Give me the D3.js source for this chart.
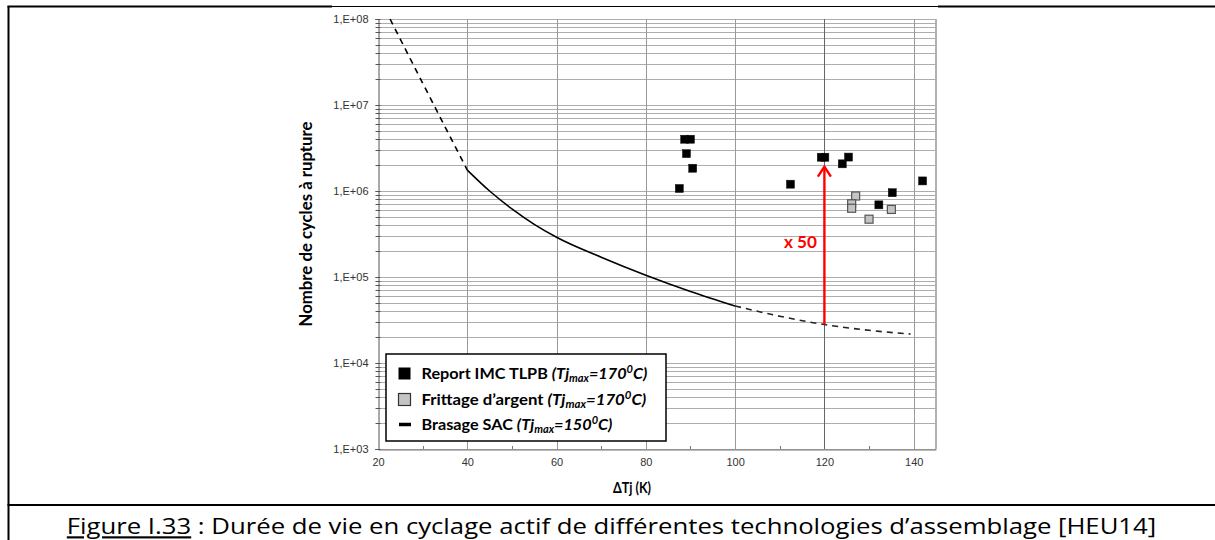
<!DOCTYPE html>
<html><head><meta charset="utf-8">
<script src="https://cdn.jsdelivr.net/npm/d3@7"></script>
<style>body{margin:0;background:#fff} svg{display:block}</style>
</head><body>
<svg id="c" width="1215" height="540"></svg>
<script>
// ---- data ----
const xTicks = [20, 40, 60, 80, 100, 120, 140];
const xMinorTicks = [30, 50, 70, 90, 110, 130];
const yTicks = [1e3, 1e4, 1e5, 1e6, 1e7, 1e8];
const yTickLabels = ["1,E+03", "1,E+04", "1,E+05", "1,E+06", "1,E+07", "1,E+08"];
const imcDT = [88.7, 90.0, 89.1, 90.5, 87.5, 112.4, 119.3, 120.1, 124.0, 125.4, 132.2, 135.2, 142.0];
const imcN  = [4.0e6, 4.0e6, 2.72e6, 1.84e6, 1.07e6, 1.2e6, 2.47e6, 2.47e6, 2.07e6, 2.48e6, 6.9e5, 9.55e5, 1.31e6];
const agDT = [127.0, 126.1, 126.1, 130.0, 135.0];
const agN  = [8.75e5, 7.1e5, 6.3e5, 4.7e5, 6.1e5];
const sacDashA_DT = [22.7, 30, 35, 40];
const sacDashA_N  = [1e8, 1.8e7, 5.6e6, 1.75e6];
const sacSolid_DT = [40, 45, 50, 55, 60, 70, 80, 90, 100];
const sacSolid_N  = [1.75e6, 1.0e6, 6.2e5, 4.1e5, 2.9e5, 1.7e5, 1.05e5, 6.8e4, 4.6e4];
const sacDashB_DT = [100, 110, 120, 130, 139.3];
const sacDashB_N  = [4.6e4, 3.5e4, 2.8e4, 2.4e4, 2.17e4];
const arrowDT = 120, arrowFrom = 2.8e4, arrowTo = 1.97e6;
const arrowLabel = "x 50";
const xTitle = "ΔTj (K)";
const yTitle = "Nombre de cycles à rupture";
const captionA = "Figure I.33";
const captionB = " : Durée de vie en cyclage actif de différentes technologies d’assemblage [HEU14]";

// ---- layout ----
const svg = d3.select("#c");
const L = 378, R = 936, T = 19, B = 449;
const x = d3.scaleLinear().domain([20, 145]).range([L, R]);
const y = d3.scaleLog().domain([1e3, 1e8]).range([B, T]);
// squeeze a text horizontally around its anchor so that it spans the target width
const squeeze = (sel, target, ax, extra) => {
  const w = sel.node().getComputedTextLength();
  const k = target / w;
  sel.attr("transform", `${extra || ""} translate(${ax},0) scale(${k},1) translate(${-ax},0)`);
};

// frame
svg.append("line").attr("x1", 8.5).attr("x2", 8.5).attr("y1", 6).attr("y2", 540).attr("stroke", "#000").attr("stroke-width", 2);
svg.append("line").attr("x1", 7.5).attr("x2", 332).attr("y1", 6.5).attr("y2", 6.5).attr("stroke", "#000").attr("stroke-width", 2);
svg.append("line").attr("x1", 332).attr("x2", 938).attr("y1", 6.5).attr("y2", 6.5).attr("stroke", "#000").attr("stroke-width", 1.2);
svg.append("line").attr("x1", 938).attr("x2", 1215).attr("y1", 6.5).attr("y2", 6.5).attr("stroke", "#000").attr("stroke-width", 2);
svg.append("line").attr("x1", 7.5).attr("x2", 1215).attr("y1", 505).attr("y2", 505).attr("stroke", "#000").attr("stroke-width", 2);

// gridlines
const yGrid = [];
for (let e = 3; e < 8; e++) for (let m = 1; m < 10; m++) yGrid.push(m * Math.pow(10, e));
yGrid.push(1e8);
svg.append("g").selectAll("line").data(yGrid).join("line")
  .attr("x1", L).attr("x2", R).attr("y1", d => Math.round(y(d)) + 0.5).attr("y2", d => Math.round(y(d)) + 0.5)
  .attr("stroke", "#adadad").attr("stroke-width", 1);
svg.append("g").selectAll("line").data(xTicks.slice(1)).join("line")
  .attr("x1", d => Math.round(x(d)) + 0.5).attr("x2", d => Math.round(x(d)) + 0.5).attr("y1", T).attr("y2", B)
  .attr("stroke", d => d === 120 ? "#666" : "#999").attr("stroke-width", 1);
svg.append("line").attr("x1", R).attr("x2", R).attr("y1", T).attr("y2", B).attr("stroke", "#b0b0b0").attr("stroke-width", 2);

// axes
const gx = svg.append("g").attr("transform", `translate(0,${B + 0.5})`)
  .call(d3.axisBottom(x).tickValues(xTicks).tickSize(0).tickPadding(9).tickFormat(d3.format("d")));
gx.select(".domain").attr("stroke", "#777");
gx.selectAll("text").attr("font-family", "Liberation Sans, Arial").attr("font-size", 11).attr("fill", "#333");
svg.append("g").selectAll("line").data(xMinorTicks).join("line")
  .attr("x1", d => Math.round(x(d)) + 0.5).attr("x2", d => Math.round(x(d)) + 0.5).attr("y1", B - 3).attr("y2", B)
  .attr("stroke", "#777");

const gy = svg.append("g").attr("transform", `translate(${L + 0.5},0)`)
  .call(d3.axisLeft(y).tickValues(yTicks).tickSize(3).tickPadding(7).tickFormat((d, i) => yTickLabels[i]));
gy.select(".domain").attr("stroke", "#555");
gy.selectAll(".tick line").attr("stroke", "#555");
gy.selectAll("text").attr("font-family", "Liberation Sans, Arial").attr("font-size", 11).attr("fill", "#333");
svg.append("g").selectAll("line").data(yGrid).join("line")
  .attr("x1", L - 2.5).attr("x2", L + 2.5).attr("y1", d => Math.round(y(d)) + 0.5).attr("y2", d => Math.round(y(d)) + 0.5)
  .attr("stroke", "#555");

// curve
const line = d3.line().x(d => x(d[0])).y(d => y(d[1])).curve(d3.curveMonotoneX);
const zip = (a, b) => a.map((v, i) => [v, b[i]]);
svg.append("path").datum(zip(sacDashA_DT, sacDashA_N)).attr("d", line).attr("fill", "none")
  .attr("stroke", "#000").attr("stroke-width", 1.6).attr("stroke-dasharray", "6,5");
svg.append("path").datum(zip(sacSolid_DT, sacSolid_N)).attr("d", line).attr("fill", "none")
  .attr("stroke", "#000").attr("stroke-width", 1.6);
svg.append("path").datum(zip(sacDashB_DT, sacDashB_N)).attr("d", line).attr("fill", "none")
  .attr("stroke", "#222").attr("stroke-width", 1.6).attr("stroke-dasharray", "6,5");

// points
const S = 8;
svg.append("g").selectAll("rect").data(zip(agDT, agN)).join("rect")
  .attr("x", d => x(d[0]) - S / 2).attr("y", d => y(d[1]) - S / 2).attr("width", S).attr("height", S)
  .attr("fill", "#c4c4c4").attr("stroke", "#555").attr("stroke-width", 1.2);
svg.append("g").selectAll("rect").data(zip(imcDT, imcN)).join("rect")
  .attr("x", d => x(d[0]) - S / 2).attr("y", d => y(d[1]) - S / 2).attr("width", S).attr("height", S)
  .attr("fill", "#000").attr("stroke", "#111").attr("stroke-width", 0.5);

// red arrow
const ax = x(arrowDT), ay1 = y(arrowFrom), ay2 = y(arrowTo);
svg.append("line").attr("x1", ax).attr("x2", ax).attr("y1", ay1).attr("y2", ay2 + 1).attr("stroke", "#f00").attr("stroke-width", 2.4);
svg.append("path").attr("d", `M${ax - 6.5},${ay2 + 11}L${ax},${ay2 + 1}L${ax + 6.5},${ay2 + 11}`)
  .attr("fill", "none").attr("stroke", "#f00").attr("stroke-width", 2.4);
const xl = svg.append("text").attr("x", 817).attr("y", 248).attr("text-anchor", "end")
  .attr("font-family", "Lato, Open Sans, sans-serif").attr("font-weight", "bold").attr("font-size", 16.5).attr("fill", "#f00").text(arrowLabel);
squeeze(xl, 33, 817);

// legend
svg.append("rect").attr("x", 386).attr("y", 354).attr("width", 280).attr("height", 87)
  .attr("fill", "#fff").attr("stroke", "#000").attr("stroke-width", 1.5);
const legItems = [
  { name: "Report IMC TLPB ", sub: "max", val: "=170", sup: "0", end: "C)", kind: "black", w: 226 },
  { name: "Frittage d’argent ", sub: "max", val: "=170", sup: "0", end: "C)", kind: "gray", w: 225 },
  { name: "Brasage SAC ", sub: "max", val: "=150", sup: "0", end: "C)", kind: "line", w: 191 }
];
const legY = [373.5, 399.5, 424.5];
legItems.forEach((it, i) => {
  const cy = legY[i];
  if (it.kind === "black") svg.append("rect").attr("x", 398.5).attr("y", cy - 6).attr("width", 12).attr("height", 12).attr("fill", "#000");
  if (it.kind === "gray") svg.append("rect").attr("x", 398.5).attr("y", cy - 6).attr("width", 12).attr("height", 12).attr("fill", "#c4c4c4").attr("stroke", "#333").attr("stroke-width", 1.2);
  if (it.kind === "line") svg.append("line").attr("x1", 399).attr("x2", 411).attr("y1", cy).attr("y2", cy).attr("stroke", "#000").attr("stroke-width", 3.5);
  const t = svg.append("text").attr("x", 421.5).attr("y", cy + 5.5).attr("font-family", "Lato, Open Sans, sans-serif")
    .attr("font-weight", "bold").attr("font-size", 16).attr("fill", "#000");
  t.append("tspan").text(it.name);
  t.append("tspan").attr("font-style", "italic").text("(Tj");
  t.append("tspan").attr("font-style", "italic").attr("font-size", "0.68em").attr("dy", "0.3em").text(it.sub);
  t.append("tspan").attr("font-style", "italic").attr("dy", "-0.2em").text(it.val);
  t.append("tspan").attr("font-style", "italic").attr("font-size", "0.68em").attr("dy", "-0.55em").text(it.sup);
  t.append("tspan").attr("font-style", "italic").attr("dy", "0.38em").text(it.end);
  const w = t.node().getBBox().width;
  t.attr("transform", `translate(421.5,0) scale(${it.w / w},1) translate(-421.5,0)`);
});

// titles
const yt = svg.append("text").attr("x", 0).attr("y", 0).attr("text-anchor", "middle")
  .attr("font-family", "Lato, Open Sans, sans-serif").attr("font-weight", "bold").attr("font-size", 16.5).attr("fill", "#000").text(yTitle);
{
  const w = yt.node().getComputedTextLength();
  yt.attr("transform", `translate(312,224) rotate(-90) scale(${205 / w},1)`);
}
const xt = svg.append("text").attr("x", 632).attr("y", 493).attr("text-anchor", "middle")
  .attr("font-family", "Lato, Open Sans, sans-serif").attr("font-weight", "bold").attr("font-size", 15.5).attr("fill", "#000").text(xTitle);
squeeze(xt, 38, 632);

// caption
const cap = svg.append("text").attr("x", 611.5).attr("y", 534.5).attr("text-anchor", "middle")
  .attr("font-family", "Open Sans, Lato, sans-serif").attr("font-size", 21.5).attr("fill", "#000");
cap.append("tspan").attr("text-decoration", "underline").text(captionA);
cap.append("tspan").text(captionB);
squeeze(cap, 1090, 611.5);
</script>
</body></html>
